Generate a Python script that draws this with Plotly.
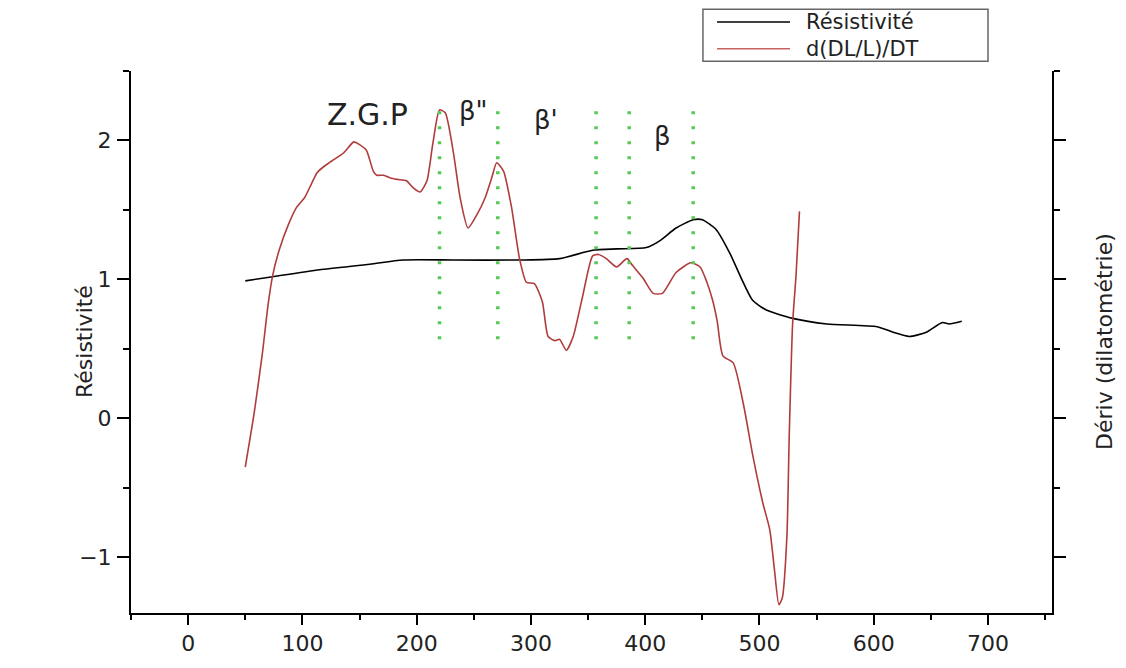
import plotly.graph_objects as go

# ---- data ----
res_x = [50, 74, 115, 159, 188, 232, 290, 325, 354, 375, 401, 413, 427, 442, 450,
         462, 474, 484, 494, 506, 529, 559, 603, 617, 631, 646, 660, 666, 677]
res_y = [0.99, 1.02, 1.07, 1.11, 1.14, 1.14, 1.14, 1.15, 1.21, 1.22, 1.23, 1.28, 1.37, 1.43, 1.43,
         1.36, 1.19, 1.01, 0.85, 0.78, 0.72, 0.68, 0.66, 0.62, 0.59, 0.62, 0.69, 0.68, 0.70]

der_x = [50, 58, 65, 70, 74, 80, 88, 95, 102, 108, 113, 120, 127, 136, 145, 150, 156, 162, 165,
         171, 177, 183, 191, 197, 203, 209, 214, 220, 225, 232, 238, 245, 253, 260, 266, 270,
         276, 283, 290, 296, 303, 310, 315, 321, 325, 331, 337, 345, 354, 359, 366, 375, 384,
         389, 398, 407, 415, 427, 440, 448, 454, 459, 463, 468, 477, 486, 494, 503, 509, 513,
         517, 520, 524, 526, 529, 532, 535]
der_y = [-0.35, 0.05, 0.47, 0.82, 1.03, 1.22, 1.40, 1.52, 1.59, 1.69, 1.77, 1.82, 1.86, 1.91,
         1.99, 1.97, 1.93, 1.78, 1.75, 1.75, 1.73, 1.72, 1.71, 1.66, 1.63, 1.71, 1.97, 2.22,
         2.20, 1.92, 1.59, 1.37, 1.47, 1.59, 1.74, 1.84, 1.78, 1.52, 1.15, 0.98, 0.97, 0.84,
         0.59, 0.56, 0.57, 0.49, 0.59, 0.87, 1.17, 1.18, 1.15, 1.09, 1.15, 1.10, 1.01, 0.90,
         0.90, 1.05, 1.12, 1.09, 0.98, 0.85, 0.70, 0.45, 0.40, 0.10, -0.26, -0.61, -0.80,
         -1.08, -1.34, -1.29, -0.85, -0.14, 0.68, 1.03, 1.49]

phase_x = [220, 271, 357, 386, 442]
phase_y0 = 0.57
phase_y1 = 2.25

label_text = ["Z.G.P", "β\"", "β'", "β"]
label_x = [157, 250, 313, 415]
label_y = [2.19, 2.21, 2.15, 2.03]

series_names = ["Résistivité", "d(DL/L)/DT"]
series_colors = ["black", "#b03c3c"]
legend_line_colors = ["black", "#c8615f"]

x_ticks = [0, 100, 200, 300, 400, 500, 600, 700]
y_ticks = [-1, 0, 1, 2]

FONT = "DejaVu Sans"

fig = go.Figure()
fig.add_trace(go.Scatter(x=res_x, y=res_y, mode="lines", name=series_names[0], showlegend=False,
                         line=dict(color=series_colors[0], width=1.6, shape="spline", smoothing=0.6)))
fig.add_trace(go.Scatter(x=der_x, y=der_y, mode="lines", name=series_names[1], yaxis="y2",
                         showlegend=False,
                         line=dict(color=series_colors[1], width=1.6, shape="spline", smoothing=0.6)))

for px in phase_x:
    fig.add_shape(type="line", xref="x", yref="y", x0=px, x1=px, y0=phase_y0, y1=phase_y1,
                  line=dict(color="#55c955", width=3.5, dash="3px,12px"))

for t, lx, ly in zip(label_text, label_x, label_y):
    fig.add_annotation(x=lx, y=ly, xref="x", yref="y", text=t, showarrow=False,
                       font=dict(family=FONT, size=30 if t == "Z.G.P" else 26, color="#222"))

# axis titles
fig.add_annotation(xref="paper", yref="paper", x=0, y=0.5, xshift=-47, text="Résistivité",
                   textangle=-90, showarrow=False, xanchor="center", yanchor="middle",
                   font=dict(family=FONT, size=22, color="#222"))
fig.add_annotation(xref="paper", yref="paper", x=1, y=0.5, xshift=52, text="Dériv (dilatométrie)",
                   textangle=-90, showarrow=False, xanchor="center", yanchor="middle",
                   font=dict(family=FONT, size=22, color="#222"))

# legend box (drawn in paper coordinates)
fig.add_shape(type="rect", xref="paper", yref="paper", x0=0.621, x1=0.9305, y0=1.0181, y1=1.1137,
              line=dict(color="#666", width=1.5), fillcolor="white", layer="above")
leg_rows = [1.0903, 1.0410]
for col, ly in zip(legend_line_colors, leg_rows):
    fig.add_shape(type="line", xref="paper", yref="paper", x0=0.6363, x1=0.7155, y0=ly, y1=ly,
                  line=dict(color=col, width=1.6), layer="above")
fig.add_annotation(xref="paper", yref="paper", x=0.7318, y=sum(leg_rows) / 2,
                   text="<br>".join(series_names), showarrow=False, align="left",
                   xanchor="left", yanchor="middle", borderpad=0,
                   font=dict(family=FONT, size=21, color="#222"))

axis_common = dict(showline=True, linecolor="black", linewidth=2, ticks="outside",
                   tickcolor="black", tickwidth=2, showgrid=False, zeroline=False,
                   tickfont=dict(family=FONT, size=22, color="#222"))

fig.update_layout(
    width=1126, height=668,
    margin=dict(l=131, r=74, t=71, b=43),
    paper_bgcolor="white", plot_bgcolor="white",
    xaxis=dict(range=[-50, 756], tickvals=x_ticks, ticklen=10,
               minor=dict(dtick=50, tick0=-50, ticklen=5, ticks="outside", tickcolor="black", tickwidth=2),
               **axis_common),
    yaxis=dict(range=[-1.4, 2.5], tickvals=y_ticks, ticklen=12, ticklabelstandoff=1,
               minor=dict(dtick=0.5, tick0=0, ticklen=6, ticks="outside", tickcolor="black", tickwidth=2),
               **axis_common),
    yaxis2=dict(overlaying="y", side="right", matches="y", range=[-1.4, 2.5], tickvals=y_ticks,
                ticklen=12, showticklabels=False,
                minor=dict(dtick=0.5, tick0=0, ticklen=6, ticks="outside", tickcolor="black", tickwidth=2),
                **axis_common),
    showlegend=False,
)

fig.write_html("out.html")
